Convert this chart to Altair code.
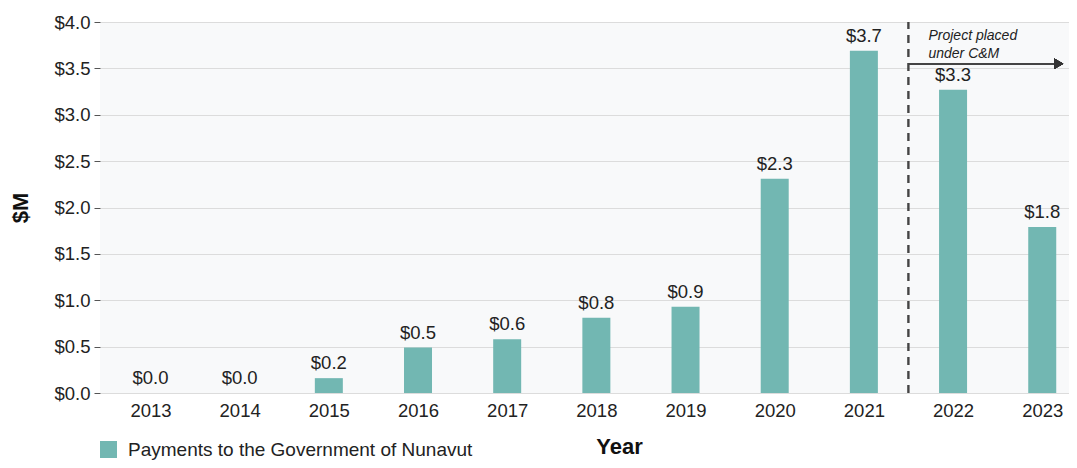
import altair as alt
import pandas as pd

years = [2013, 2014, 2015, 2016, 2017, 2018, 2019, 2020, 2021, 2022, 2023]
payments = [0.0, 0.0, 0.16, 0.49, 0.58, 0.81, 0.93, 2.31, 3.69, 3.27, 1.79]
series_name = "Payments to the Government of Nunavut"
bar_color = "#72b7b2"

cm_start = 2021.5
x_min, x_max = 2012.49, 2023.244
arrow_value = 3.55
arrow_tip = 2023.185
note_lines = ["Project placed", "under C&M"]
note_values = [3.806, 3.612]

FONT = "Liberation Sans"

df = pd.DataFrame({"year": years, "value": payments, "series": series_name})
notes = pd.DataFrame({"x": [cm_start] * 2, "y": note_values, "t": note_lines})

xscale = alt.Scale(domain=[x_min, x_max], nice=False, zero=False)
yscale = alt.Scale(domain=[0, 4], nice=False)

bars = alt.Chart(df).mark_bar(size=28).encode(
    x=alt.X("year:Q", scale=xscale,
            axis=alt.Axis(values=years, format="d", title="Year", grid=False,
                          ticks=False, domain=False, labelPadding=8,
                          labelFontSize=18.5, labelColor="#222", labelFlush=False,
                          labelOverlap=False, titleFontSize=22, titleFontWeight="bold",
                          titleColor="#111", titleX=519, titleY=60,
                          titleBaseline="alphabetic", titleAlign="center")),
    y=alt.Y("value:Q", scale=yscale,
            axis=alt.Axis(values=[0, 0.5, 1, 1.5, 2, 2.5, 3, 3.5, 4], format="$.1f",
                          title="$M", grid=True, gridColor="#dcdcdc", domain=False,
                          tickSize=6, tickColor="#555", labelPadding=4,
                          labelFontSize=18.5, labelColor="#222",
                          titleFontSize=22, titleFontWeight="bold", titleColor="#111",
                          titleAngle=270, titleX=-80, titleY=185.5,
                          titleBaseline="middle", titleAlign="center")),
    color=alt.Color("series:N", scale=alt.Scale(domain=[series_name], range=[bar_color]),
                    legend=alt.Legend(title=None, orient="none", legendX=-1, legendY=418,
                                      symbolType="square", symbolSize=289,
                                      symbolStrokeWidth=0, labelFontSize=19,
                                      labelColor="#222", labelOffset=10, padding=0,
                                      labelLimit=0)),
)

labels = alt.Chart(df).mark_text(fontSize=18.5, color="#222", baseline="alphabetic",
                                 dy=-9, font=FONT).encode(
    x=alt.X("year:Q", scale=xscale),
    y=alt.Y("value:Q", scale=yscale),
    text=alt.Text("value:Q", format="$.1f"),
)

vline = alt.Chart(df).mark_rule(color="#444", strokeDash=[8, 6], strokeWidth=1.2).encode(
    x=alt.datum(cm_start, scale=xscale),
    y=alt.datum(0),
    y2=alt.datum(4),
)

arrow = alt.Chart(df).mark_rule(color="#444", strokeWidth=1.5).encode(
    x=alt.datum(cm_start),
    x2=alt.datum(arrow_tip),
    y=alt.datum(arrow_value),
)

head = alt.Chart(df).mark_point(shape="triangle-right", filled=True, color="#333",
                                size=110, opacity=1).encode(
    x=alt.datum(arrow_tip),
    y=alt.datum(arrow_value),
)

note = alt.Chart(notes).mark_text(fontSize=14, fontStyle="italic", color="#222",
                                  align="left", baseline="alphabetic", dx=20,
                                  font=FONT).encode(
    x=alt.X("x:Q", scale=xscale),
    y=alt.Y("y:Q", scale=yscale),
    text="t:N",
)

chart = alt.layer(bars, labels, vline, arrow, head, note).properties(
    width=969, height=371,
    autosize=alt.AutoSizeParams(type="none"),
    padding={"left": 92, "top": 14, "right": 0, "bottom": 67},
).configure(font=FONT).configure_view(stroke=None, fill="#f8f9fa")

chart.save("out.html", embed_options={"renderer": "svg", "actions": False})
